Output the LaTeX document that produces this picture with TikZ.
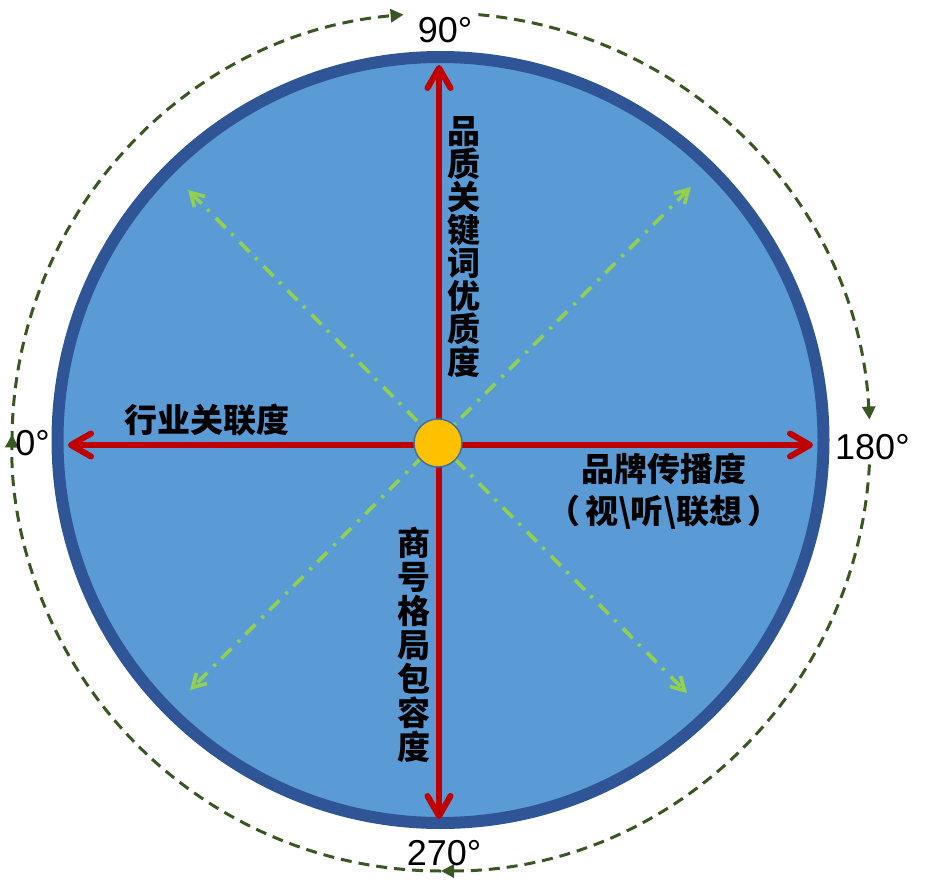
\documentclass[tikz,border=0pt]{standalone}
\usepackage{fontspec}
\setmainfont{Liberation Sans}
\newfontfamily\cjk{Noto Sans CJK SC}
\usetikzlibrary{arrows.meta,positioning}
\definecolor{ringblue}{HTML}{2F5597}
\definecolor{discblue}{HTML}{5B9BD5}
\definecolor{axisred}{HTML}{C00000}
\definecolor{diaggreen}{HTML}{92D050}
\definecolor{orbitgreen}{HTML}{385723}
\definecolor{hubyellow}{HTML}{FFC000}
\definecolor{hubedge}{HTML}{41719C}
\tikzset{
	disc/.style={circle,draw=ringblue,fill=discblue,line width=12pt,minimum size=766pt,inner sep=0pt},
	hub/.style={circle,draw=hubedge,fill=hubyellow,line width=1.5pt,minimum size=48pt,inner sep=0pt},
	axis/.style={draw=axisred,line width=6pt,-{Straight Barb[round,length=20pt,width=23pt]}},
	diag/.style={draw=diaggreen,line width=3.6pt,dash pattern=on 14pt off 8pt on 3pt off 9pt,
		{Straight Barb[length=13pt,width=15pt]}-{Straight Barb[length=13pt,width=15pt]}},
	orbit/.style={draw=orbitgreen,line width=3pt,dash pattern=on 11pt off 7pt,-{Triangle[length=13pt,width=13pt]}},
	deg/.style={font=\fontsize{36}{36}\selectfont,inner sep=0pt},
	label/.style={font=\cjk\bfseries\fontsize{33}{33}\selectfont,align=center,inner sep=0pt},
}
\begin{document}
\begin{tikzpicture}[x=1pt,y=1pt]
	\useasboundingbox (0,0) rectangle (930,-883);
	\node[disc] (disc) at (440.5,-440) {};

	% axes and diagonals
	\coordinate (o) at (439,-445);
	\coordinate (top) at (439,-65);
	\coordinate (bot) at (439,-819);
	\coordinate (lft) at (68,-445);
	\coordinate (rgt) at (813,-445);
	\coordinate (nw) at (188,-190);
	\coordinate (se) at (687,-693);
	\coordinate (ne) at (691,-187);
	\coordinate (sw) at (190,-690);
	\draw[diag] (nw) -- (se);
	\draw[diag] (ne) -- (sw);
	\foreach \e in {top,bot,lft,rgt}
		\draw[axis] (o) -- (\e);
	\node[hub] (hub) at (438,-443) {};

	% orbit
	\coordinate (orb) at (441,-442);
	\foreach \a/\b in {180/95, 85/3, -3/-90, -90/-181}
		\draw[orbit] (orb) ++(\a:429) arc[start angle=\a,end angle=\b,radius=429];

	\node[deg] (d90) [above=22pt of top,xshift=6pt] {90°};
	\node[deg] (d270) [below=21pt of bot,xshift=5pt] {270°};
	\node[deg] (d180) [right=22pt of rgt,yshift=-2pt] {180°};
	\node[deg] (d0) [left=18pt of lft,yshift=2pt] {0°};

	\node[label] (quality) at (464,-247) {品\\质\\关\\键\\词\\优\\质\\度};
	\node[label,font=\cjk\bfseries\fontsize{33}{34}\selectfont] (layout) at (414,-645) {商\\号\\格\\局\\包\\容\\度};
	\node[label] (industry) at (207,-420) {行业关联度};
	\node[label,font=\cjk\bfseries\fontsize{33}{42}\selectfont] (brand) at (664,-491) {品牌传播度\\（\hspace{5pt}视\textbackslash 听\textbackslash 联想\hspace{5pt}）};
\end{tikzpicture}
\end{document}
